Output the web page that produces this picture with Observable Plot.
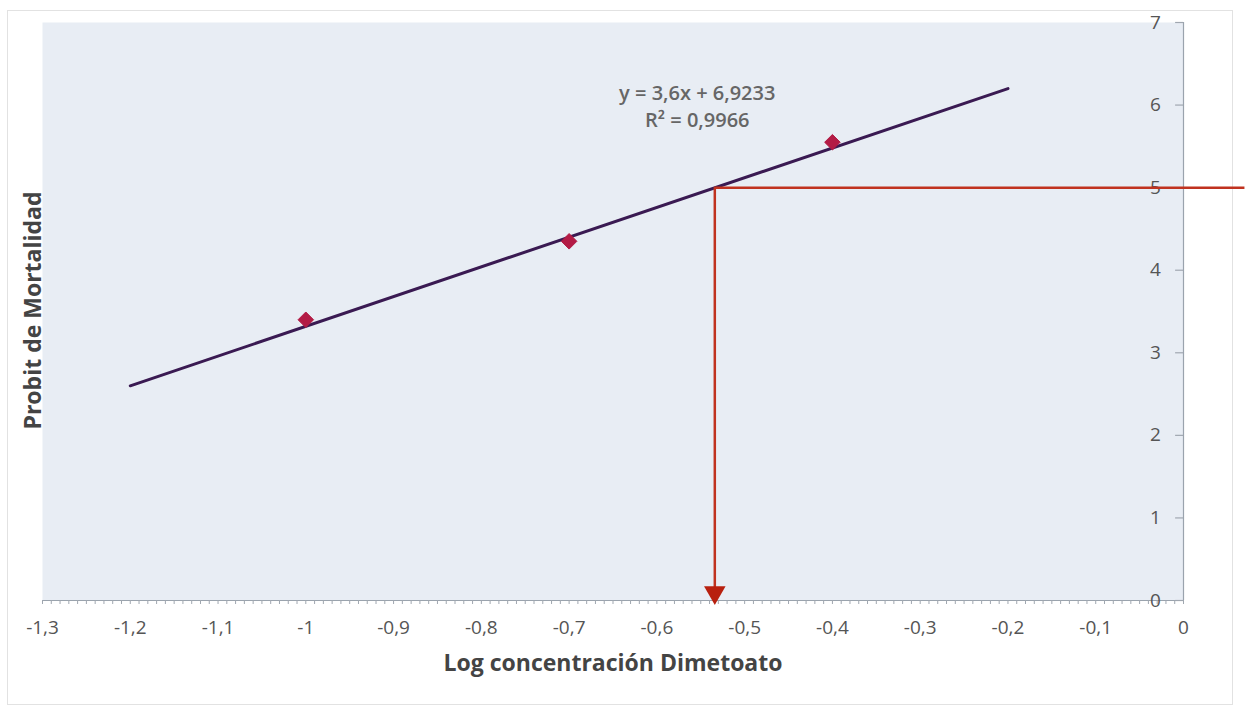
<!DOCTYPE html>
<html><head><meta charset="utf-8">
<script src="https://cdn.jsdelivr.net/npm/d3@7"></script>
<script src="https://cdn.jsdelivr.net/npm/@observablehq/plot@0.6"></script>
<style>
body{margin:0;background:#fff;}
#c{position:relative;width:1246px;height:710px;overflow:hidden;}
#c svg{position:absolute;left:0;top:0;}
#border{position:absolute;left:7px;top:10px;width:1226px;height:695px;border:1px solid #e2e2e2;box-sizing:border-box;}
</style>
</head><body><div id="c"><div id="border"></div></div>
<script>
// Data
const logConc = [-1, -0.7, -0.4];
const probit = [3.4, 4.35, 5.55];
const trendX = [-1.2, -0.2];
const trendY = [2.6, 6.2];
const lc50X = -0.534;
const lc50Y = 5;
const lineEndX = 0.07;
const xTicks = [-1.3, -1.2, -1.1, -1, -0.9, -0.8, -0.7, -0.6, -0.5, -0.4, -0.3, -0.2, -0.1, 0];
const yTicks = [0, 1, 2, 3, 4, 5, 6, 7];
const equationLines = ["y = 3,6x + 6,9233", "R² = 0,9966"];
const eqPos = {x: -0.554, y: 6.0};
const xTitle = "Log concentración Dimetoato";
const yTitle = "Probit de Mortalidad";

const points = logConc.map((x, i) => ({x, y: probit[i]}));
const trend = trendX.map((x, i) => ({x, y: trendY[i]}));
const fmt = d => String(d).replace(".", ",");
const font = "'Open Sans', Lato, sans-serif";

const chart = Plot.plot({
  width: 1246,
  height: 710,
  marginLeft: 42,
  marginRight: 63,
  marginTop: 22,
  marginBottom: 110,
  style: {fontFamily: font, fontSize: "19px", color: "#555", background: "transparent"},
  x: {domain: [-1.3, 0]},
  y: {domain: [0, 7], axis: null},
  marks: [
    Plot.frame({fill: "#e8edf4", stroke: null}),
    // x axis line with minor ticks
    Plot.ruleY([0], {stroke: "#9aa3ad", strokeWidth: 1.2}),
    Plot.axisX({ticks: 130, tickSize: 4, tickFormat: null, stroke: "#a0a7b0", text: null, label: null}),
    Plot.axisX({ticks: xTicks, tickSize: 0, tickPadding: 20, tickFormat: fmt, fill: "#555", fontSize: 19, label: null}),
    // y axis on the right, labels inside
    Plot.ruleX([0], {y1: 0, y2: 7, stroke: "#9aa3ad", strokeWidth: 1.2}),
    Plot.ruleY(yTicks, {x1: -0.009, x2: 0, y: d => d, stroke: "#a0a7b0", strokeWidth: 1.2}),
    Plot.text(yTicks, {x: 0, y: d => d, text: d => fmt(d), dx: -28, textAnchor: "middle", fill: "#555", fontSize: 19}),
    // trend line and data
    Plot.line(trend, {x: "x", y: "y", stroke: "#3a1a52", strokeWidth: 3}),
    Plot.dot(points, {x: "x", y: "y", symbol: "diamond2", r: 7, fill: "#b31b45", stroke: "#b31b45", strokeWidth: 1}),
    // LC50 lines
    Plot.ruleY([lc50Y], {x1: lc50X, x2: lineEndX, stroke: "#c0321f", strokeWidth: 2.5}),
    Plot.ruleX([lc50X], {y1: lc50Y, y2: 0.12, stroke: "#c0321f", strokeWidth: 2.5}),
    Plot.dot([lc50X], {x: d => d, y: 0, symbol: "triangle", rotate: 180, r: 8, dy: -8, fill: "#b8200f", stroke: null}),
    // equation
    Plot.text([equationLines.join("\n")], {x: eqPos.x, y: eqPos.y, text: d => d, lineHeight: 1.35, fill: "#666", fontSize: 20, fontWeight: 600, textAnchor: "middle"}),
    // titles
    Plot.text([xTitle], {frameAnchor: "bottom", dy: 70, text: d => d, fontSize: 23, fontWeight: "bold", fill: "#444", textAnchor: "middle"}),
    Plot.text([yTitle], {frameAnchor: "left", dx: -9, dy: -1, rotate: -90, text: d => d, fontSize: 23, fontWeight: "bold", fill: "#444", textAnchor: "middle"})
  ]
});
document.getElementById("c").appendChild(chart);
</script>
</body></html>
